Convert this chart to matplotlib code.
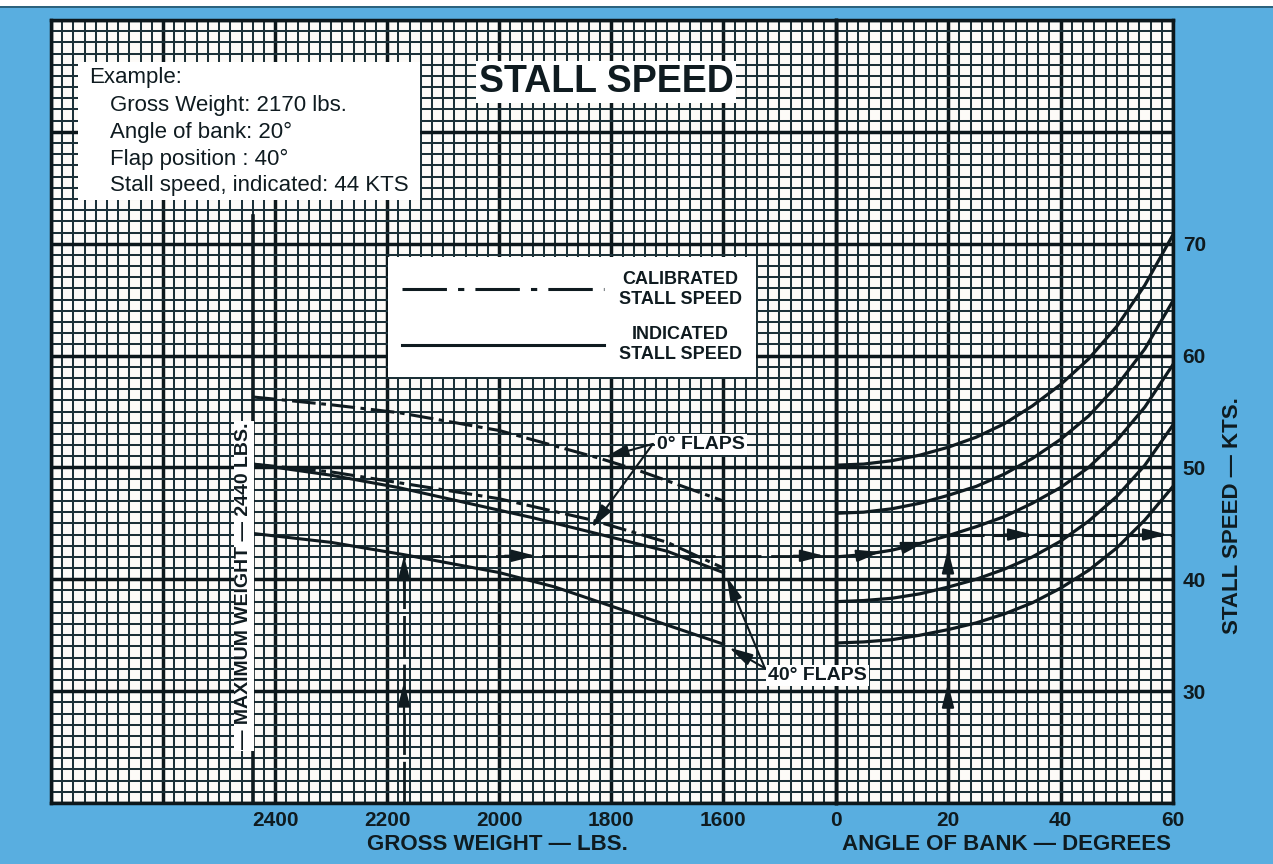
import numpy as np
import matplotlib.pyplot as plt
from matplotlib.lines import Line2D
from matplotlib.patches import Rectangle

plt.rcParams["font.family"] = ["Liberation Sans", "DejaVu Sans"]
plt.rcParams["lines.scale_dashes"] = False

# ---- gross weight side: weight (lbs) -> stall speed (kts)
CAL_0_WEIGHT = [2440, 2300, 2180, 2000, 1820, 1750, 1600]
CAL_0_KTS = [56.3, 55.6, 54.9, 53.3, 50.8, 49.7, 47.0]
IND_0_WEIGHT = [2440, 2300, 2180, 1940, 1835, 1700, 1600]
IND_0_KTS = [50.3, 49.3, 48.2, 45.5, 44.2, 42.5, 40.6]
CAL_40_WEIGHT = [2440, 2300, 2200, 2000, 1835, 1700, 1600]
CAL_40_KTS = [50.3, 49.6, 48.8, 47.2, 45.3, 43.3, 41.0]
IND_40_WEIGHT = [2440, 2300, 2170, 2000, 1900, 1800, 1700, 1600]
IND_40_KTS = [44.1, 43.3, 42.2, 40.6, 39.3, 37.6, 35.9, 34.2]

# ---- angle of bank side: bank (deg) -> stall speed (kts)
BANK_DEG = [0, 5, 10, 15, 20, 25, 30, 35, 40, 45, 50, 55, 60]
BANK_KTS_1 = [50.2, 50.3, 50.6, 51.1, 51.8, 52.7, 53.9, 55.5, 57.4, 59.7, 62.6, 66.3, 70.8]
BANK_KTS_2 = [45.9, 46.0, 46.3, 46.8, 47.5, 48.3, 49.4, 50.8, 52.5, 54.6, 57.3, 60.6, 64.9]
BANK_KTS_3 = [42.0, 42.2, 42.6, 43.2, 43.9, 44.7, 45.6, 46.8, 48.2, 50.0, 52.4, 55.4, 59.2]
BANK_KTS_4 = [38.0, 38.1, 38.3, 38.7, 39.3, 40.0, 40.9, 42.0, 43.4, 45.2, 47.4, 50.2, 53.8]
BANK_KTS_5 = [34.3, 34.4, 34.6, 35.0, 35.5, 36.1, 36.9, 37.9, 39.2, 40.8, 42.8, 45.3, 48.3]

# ---- worked example
MAX_WEIGHT = 2440
EX_WEIGHT = 2170
EX_BANK = 20
EX_KTS_LEVEL = 42.1
EX_KTS_RESULT = 44.0

WEIGHT_TICKS = [2400, 2200, 2000, 1800, 1600]
BANK_TICKS = [0, 20, 40, 60]
KTS_TICKS = [30, 40, 50, 60, 70]

EXAMPLE_LINES = ["Gross Weight: 2170 lbs.", "Angle of bank: 20\u00b0",
                 "Flap position : 40\u00b0", "Stall speed, indicated: 44 KTS"]

BLUE = "#59aee0"
PAPER = "#fdfbf8"
INK = "#0f1b20"
GRID_MINOR = "#1c3138"
GRID_MAJOR = "#0c171b"

CAL_STYLE = (0, (17, 4, 3.5, 4))

W_PX, H_PX = 1273, 864
fig = plt.figure(figsize=(W_PX / 100, H_PX / 100), dpi=100, facecolor=BLUE)


def fx(px):
    return px / W_PX


def fy(py):
    return 1 - py / H_PX


LEFT, RIGHT, TOP, BOTTOM, ZERO = 51, 1173, 20, 803, 835.5
ax_w = fig.add_axes([fx(LEFT), fy(BOTTOM), fx(ZERO) - fx(LEFT), fy(TOP) - fy(BOTTOM)])
ax_b = fig.add_axes([fx(ZERO), fy(BOTTOM), fx(RIGHT) - fx(ZERO), fy(TOP) - fy(BOTTOM)])
ax_w.set_zorder(2)  # so labels that overhang the zero line stay visible
ax_b.set_zorder(1)

ax_w.set_xlim(2800, 1400)
ax_b.set_xlim(0, 60)
for ax in (ax_w, ax_b):
    ax.set_ylim(20, 90)
    ax.set_facecolor(PAPER)
    ax.set_yticks(np.arange(20, 91, 10))
    ax.set_yticks(np.arange(20, 91, 1), minor=True)
    ax.grid(which="minor", color=GRID_MINOR, lw=1.45)
    ax.grid(which="major", color=GRID_MAJOR, lw=2.5)
    ax.set_axisbelow(True)
    ax.tick_params(which="both", length=0)
    for sp in ax.spines.values():
        sp.set_color(GRID_MAJOR)
        sp.set_linewidth(2.5)

w_major = np.arange(1400, 2801, 200)
ax_w.set_xticks(w_major)
ax_w.set_xticks(np.arange(1400, 2801, 20), minor=True)
ax_w.set_xticklabels([str(w) if w in WEIGHT_TICKS else "" for w in w_major],
                     fontsize=15, fontweight="bold", color=INK)
ax_w.set_yticklabels([])
ax_w.tick_params(axis="x", pad=6)

ax_b.set_xticks(np.arange(0, 61, 20))
ax_b.set_xticks(np.arange(0, 61, 2), minor=True)
ax_b.set_xticklabels([str(b) if b in BANK_TICKS else "" for b in np.arange(0, 61, 20)],
                     fontsize=15, fontweight="bold", color=INK)
ax_b.yaxis.tick_right()
ax_b.set_yticklabels([str(k) if k in KTS_TICKS else "" for k in np.arange(20, 91, 10)],
                     fontsize=15, fontweight="bold", color=INK)
ax_b.tick_params(axis="x", pad=6)
ax_b.tick_params(axis="y", pad=7)

# axis titles
ax_w.set_xlabel("GROSS WEIGHT \u2014 LBS.", fontsize=16, fontweight="bold", color=INK)
ax_w.xaxis.set_label_coords((497 - LEFT) / (ZERO - LEFT), -(844 - BOTTOM) / (BOTTOM - TOP))
ax_w.xaxis.label.set_va("center")
ax_b.set_xlabel("ANGLE OF BANK \u2014 DEGREES", fontsize=16, fontweight="bold", color=INK)
ax_b.xaxis.set_label_coords((1006 - ZERO) / (RIGHT - ZERO), -(845 - BOTTOM) / (BOTTOM - TOP))
ax_b.xaxis.label.set_va("center")
ax_b.set_ylabel("STALL SPEED \u2014 KTS.", fontsize=16, fontweight="bold", color=INK)
ax_b.yaxis.set_label_position("right")
ax_b.yaxis.set_label_coords((1233 - ZERO) / (RIGHT - ZERO), (BOTTOM - 516) / (BOTTOM - TOP))
ax_b.yaxis.label.set_va("center")
ax_b.yaxis.label.set_ha("center")

# ---- gross weight curves
ax_w.plot([MAX_WEIGHT, MAX_WEIGHT], [20, 72.5], color=INK, lw=2.6, zorder=3)
ax_w.plot(CAL_0_WEIGHT, CAL_0_KTS, color=INK, lw=2.2, ls=CAL_STYLE, zorder=3)
ax_w.plot(CAL_40_WEIGHT, CAL_40_KTS, color=INK, lw=2.2, ls=CAL_STYLE, zorder=3)
ax_w.plot(IND_0_WEIGHT, IND_0_KTS, color=INK, lw=2.2, zorder=3)
ax_w.plot(IND_40_WEIGHT, IND_40_KTS, color=INK, lw=2.2, zorder=3)

# ---- angle of bank curves
for kts in (BANK_KTS_1, BANK_KTS_2, BANK_KTS_3, BANK_KTS_4, BANK_KTS_5):
    ax_b.plot(BANK_DEG, kts, color=INK, lw=2.3, zorder=3)


def head(ax, tip, tail, lw=1.6):
    ax.annotate("", xy=tip, xytext=tail, zorder=4,
                arrowprops=dict(arrowstyle="-|>,head_length=1.1,head_width=0.28",
                                mutation_scale=13, color=INK, lw=lw,
                                shrinkA=0, shrinkB=0))


# ---- example path
ex_top = np.interp(EX_WEIGHT, IND_40_WEIGHT[::-1], IND_40_KTS[::-1])
ax_w.plot([EX_WEIGHT, EX_WEIGHT], [20, ex_top], color=INK, lw=2.0,
          ls=(0, (30, 5)), zorder=3)
ax_w.plot([EX_WEIGHT, 1400], [EX_KTS_LEVEL, EX_KTS_LEVEL], color=INK, lw=2.0,
          ls=(0, (26, 7)), zorder=3)
head(ax_w, (EX_WEIGHT, 30.8), (EX_WEIGHT, 28.0))
head(ax_w, (EX_WEIGHT, ex_top - 0.1), (EX_WEIGHT, ex_top - 3.0))
head(ax_w, (1935, EX_KTS_LEVEL), (1990, EX_KTS_LEVEL))
head(ax_w, (1420, EX_KTS_LEVEL), (1475, EX_KTS_LEVEL))

ax_b.plot([EX_BANK, EX_BANK], [20, EX_KTS_RESULT], color=INK, lw=2.2, zorder=3)
ax_b.plot([EX_BANK, 60], [EX_KTS_RESULT, EX_KTS_RESULT], color=INK, lw=2.2,
          ls=(0, (26, 6)), zorder=3)
head(ax_b, (EX_BANK, 30.7), (EX_BANK, 28.0))
head(ax_b, (EX_BANK, 42.7), (EX_BANK, 40.0))
for b in (8, 16):
    head(ax_b, (b, np.interp(b, BANK_DEG, BANK_KTS_3)),
         (b - 3, np.interp(b - 3, BANK_DEG, BANK_KTS_3)))
head(ax_b, (35, EX_KTS_RESULT), (30, EX_KTS_RESULT))
head(ax_b, (59, EX_KTS_RESULT), (54, EX_KTS_RESULT))

# ---- flap labels with pointer arrows
label_box = dict(facecolor="white", edgecolor="none", pad=1.5)
ax_w.text(1719, 52.05, "0\u00b0 FLAPS", ha="left", va="center", fontsize=14,
          fontweight="bold", color=INK, bbox=label_box, zorder=5)
head(ax_w, (1812, 50.9), (1726, 52.1), lw=1.5)
head(ax_w, (1835, 44.6), (1726, 52.1), lw=1.5)
ax_w.text(1521, 31.4, "40\u00b0 FLAPS", ha="left", va="center", fontsize=14,
          fontweight="bold", color=INK, bbox=label_box, zorder=5)
head(ax_w, (1594, 40.2), (1526, 32.05), lw=1.5)
head(ax_w, (1590, 33.9), (1526, 32.05), lw=1.5)

ax_w.text(2456, 39.4, "\u2014 MAXIMUM WEIGHT \u2014 2440 LBS.", rotation=90,
          ha="center", va="center", fontsize=14, fontweight="bold", color=INK,
          bbox=dict(facecolor="white", edgecolor="none", pad=1.0), zorder=5)

# ---- legend
handles = [Line2D([], [], color=INK, lw=2.2, ls=(0, (32, 8, 4.5, 8))),
           Line2D([], [], color=INK, lw=2.2)]
leg = ax_w.legend(handles, ["CALIBRATED\nSTALL SPEED", "INDICATED\nSTALL SPEED"],
                  loc="upper left", bbox_to_anchor=(fx(388), fy(257)),
                  bbox_transform=fig.transFigure, borderaxespad=0,
                  prop=dict(size=13, weight="bold"), handlelength=11.2,
                  handletextpad=0.85, labelspacing=1.0, borderpad=0.75,
                  fancybox=False, framealpha=1, facecolor="white", edgecolor="none")
leg.set_zorder(6)
for t in leg.get_texts():
    t.set_multialignment("center")
    t.set_color(INK)
    t.set_linespacing(1.25)

# ---- example box
fig.patches.append(Rectangle((fx(78), fy(200)), fx(420) - fx(78), fy(62) - fy(200),
                             transform=fig.transFigure, facecolor="white",
                             edgecolor="none", zorder=5))
fig.text(fx(89), fy(78), "Example:", ha="left", va="center", fontsize=16,
         color=INK, zorder=6)
for i, line in enumerate(EXAMPLE_LINES):
    fig.text(fx(110), fy(106 + 26.5 * i), line, ha="left", va="center",
             fontsize=16, color=INK, zorder=6)

fig.text(fx(606), fy(82), "STALL SPEED", ha="center", va="center", fontsize=27,
         fontweight="bold", color=INK, zorder=6,
         bbox=dict(facecolor="white", edgecolor="none", pad=2))

# white strip along the top edge of the scan
fig.patches.append(Rectangle((0, fy(6)), 1, fy(0) - fy(6), transform=fig.transFigure,
                             facecolor="white", edgecolor="none", zorder=5))
fig.lines.append(Line2D([0, 1], [fy(6.5), fy(6.5)], transform=fig.transFigure,
                        color="#24556b", lw=1.2, zorder=6))

fig.savefig("out.png", dpi=100, facecolor=BLUE)
